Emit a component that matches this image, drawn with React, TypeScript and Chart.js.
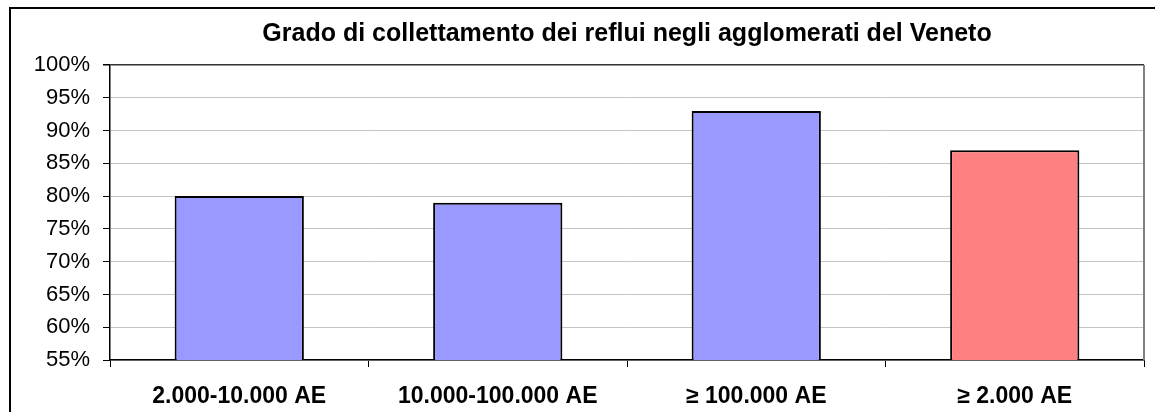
import React, { useEffect, useRef } from "react";
import { Chart, registerables } from "chart.js";

Chart.register(...registerables);

const chartTitle = "Grado di collettamento dei reflui negli agglomerati del Veneto";
const categories = ["2.000-10.000 AE", "10.000-100.000 AE", "≥ 100.000 AE", "≥ 2.000 AE"];
const values = [80, 79, 93, 87];
const barColors = ["#9999FF", "#9999FF", "#9999FF", "#FF8080"];
const yMin = 55;
const yMax = 100;
const yStep = 5;

const framePlugin = {
  id: "frame",
  afterDraw(chart: any) {
    const { ctx, chartArea } = chart;
    ctx.save();
    ctx.strokeStyle = "#808080";
    ctx.lineWidth = 2;
    ctx.beginPath();
    ctx.moveTo(chartArea.right, chartArea.top);
    ctx.lineTo(chartArea.right, chartArea.bottom);
    ctx.stroke();
    ctx.strokeStyle = "#000";
    ctx.lineWidth = 2;
    ctx.strokeRect(10, 8, 3000, 3000);
    ctx.restore();
  },
};

export default function App() {
  const ref = useRef<HTMLCanvasElement | null>(null);

  useEffect(() => {
    if (!ref.current) return;
    const chart = new Chart(ref.current, {
      type: "bar",
      data: {
        labels: categories,
        datasets: [
          {
            data: values,
            backgroundColor: barColors,
            borderColor: "#000",
            borderWidth: 2,
            barPercentage: 0.5,
            categoryPercentage: 1,
          },
        ],
      },
      options: {
        animation: false,
        responsive: true,
        maintainAspectRatio: false,
        layout: { padding: { left: 12, right: 11, top: 12, bottom: 0 } },
        plugins: {
          legend: { display: false },
          tooltip: { enabled: false },
          title: {
            display: true,
            fullSize: false,
            text: chartTitle,
            color: "#000",
            font: { family: "Arial, 'Liberation Sans', sans-serif", size: 25, weight: "bold" },
            padding: { top: 7, bottom: 16 },
          },
        },
        scales: {
          x: {
            afterFit: (s: any) => {
              s.height = 52;
            },
            border: { display: true, color: "#000", width: 1.5 },
            grid: {
              display: true,
              drawOnChartArea: false,
              drawTicks: true,
              tickLength: 7,
              tickColor: "#000",
              offset: true,
            },
            ticks: {
              color: "#000",
              padding: 16,
              maxRotation: 0,
              font: { family: "Arial, 'Liberation Sans', sans-serif", size: 23, weight: "bold" },
            },
          },
          y: {
            min: yMin,
            max: yMax,
            afterFit: (s: any) => {
              s.width = 98;
            },
            border: { display: true, color: "#000", width: 1.5 },
            grid: {
              color: (c: any) => (c.tick && c.tick.value === yMax ? "#333" : "#c4c4c4"),
              lineWidth: (c: any) => (c.tick && c.tick.value === yMax ? 1.5 : 1),
              tickLength: 7,
              tickColor: "#000",
            },
            ticks: {
              stepSize: yStep,
              color: "#000",
              padding: 13,
              font: { family: "Arial, 'Liberation Sans', sans-serif", size: 22 },
              callback: (v: any) => `${v}%`,
            },
          },
        },
      },
      plugins: [framePlugin],
    });
    return () => chart.destroy();
  }, []);

  return (
    <div style={{ position: "absolute", left: 0, top: 0, width: 1155, height: 412, background: "#fff" }}>
      <canvas ref={ref} />
    </div>
  );
}
